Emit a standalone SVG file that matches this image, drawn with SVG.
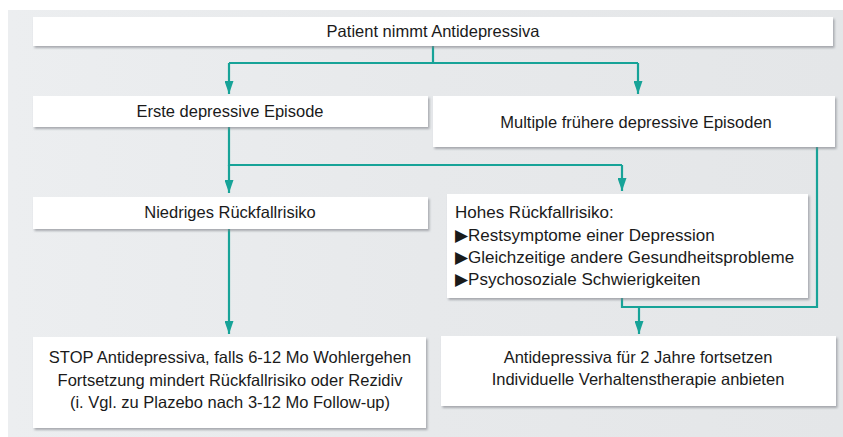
<svg xmlns="http://www.w3.org/2000/svg" width="843" height="437" viewBox="0 0 843 437">
<defs>
<filter id="sh" x="-5%" y="-20%" width="110%" height="150%">
<feDropShadow dx="1.5" dy="2" stdDeviation="1.2" flood-color="#7a7f85" flood-opacity="0.6"/>
</filter>
<marker id="ah" markerWidth="13" markerHeight="9" refX="13" refY="4.5" orient="auto" markerUnits="userSpaceOnUse" viewBox="0 0 13 9">
<path d="M0,0 L13,4.5 L0,9 Z" fill="#17a398"/>
</marker>
<linearGradient id="bg" x1="0" y1="0" x2="1" y2="0">
<stop offset="0" stop-color="#eceef0"/>
<stop offset="0.5" stop-color="#e7e9eb"/>
<stop offset="1" stop-color="#e4e6e8"/>
</linearGradient>
</defs>
<style>
.box{fill:#ffffff;filter:url(#sh)}
.t{font-family:"Liberation Sans","Open Sans",sans-serif;font-size:16.5px;fill:#1a1a1a}
.h{font-size:17px}
.c{text-anchor:middle}
.b{font-family:"DejaVu Sans",sans-serif;font-size:17px}
.ln{fill:none;stroke:#17a398;stroke-width:2.2}
.ar{marker-end:url(#ah)}
</style>
<rect x="0" y="0" width="843" height="437" fill="#ffffff"/>
<rect x="8" y="10" width="835" height="427" fill="url(#bg)"/>
<g id="connectors">
<path class="ln" d="M433,46 V63 M229,63 H638"/>
<path class="ln ar" d="M229,63 V94"/>
<path class="ln ar" d="M638,63 V94"/>
<path class="ln" d="M229,127 V165 H622"/>
<path class="ln ar" d="M229,165 V193"/>
<path class="ln ar" d="M622,165 V191"/>
<path class="ln" d="M817,147 V307 H622 V298"/>
<path class="ln ar" d="M639,307 V334"/>
<path class="ln ar" d="M229,229 V334"/>
</g>
<g id="n1"><rect class="box" x="33" y="17" width="800" height="29"/><text class="t c" x="433" y="37">Patient nimmt Antidepressiva</text></g>
<g id="n2"><rect class="box" x="33" y="96" width="395" height="31"/><text class="t c" x="230" y="117">Erste depressive Episode</text></g>
<g id="n3"><rect class="box" x="433" y="96" width="402" height="51"/><text class="t c" x="636" y="128">Multiple frühere depressive Episoden</text></g>
<g id="n4"><rect class="box" x="33" y="197" width="395" height="32"/><text class="t c" x="230" y="218">Niedriges Rückfallrisiko</text></g>
<g id="n5"><rect class="box" x="447" y="194" width="361" height="104"/>
<text class="t h" x="455" y="218">Hohes Rückfallrisiko:</text>
<text class="t h" x="455" y="241"><tspan class="b">▶</tspan>Restsymptome einer Depression</text>
<text class="t h" x="455" y="263"><tspan class="b">▶</tspan>Gleichzeitige andere Gesundheitsprobleme</text>
<text class="t h" x="455" y="285"><tspan class="b">▶</tspan>Psychosoziale Schwierigkeiten</text>
</g>
<g id="n6"><rect class="box" x="33" y="337" width="393" height="91"/>
<text class="t c" x="230" y="363">STOP Antidepressiva, falls 6-12 Mo Wohlergehen</text>
<text class="t c" x="230" y="386">Fortsetzung mindert Rückfallrisiko oder Rezidiv</text>
<text class="t c" x="230" y="408">(i. Vgl. zu Plazebo nach 3-12 Mo Follow-up)</text>
</g>
<g id="n7"><rect class="box" x="441" y="336" width="395" height="70"/>
<text class="t c" x="638" y="363">Antidepressiva für 2 Jahre fortsetzen</text>
<text class="t c" x="638" y="385">Individuelle Verhaltenstherapie anbieten</text>
</g>
</svg>
